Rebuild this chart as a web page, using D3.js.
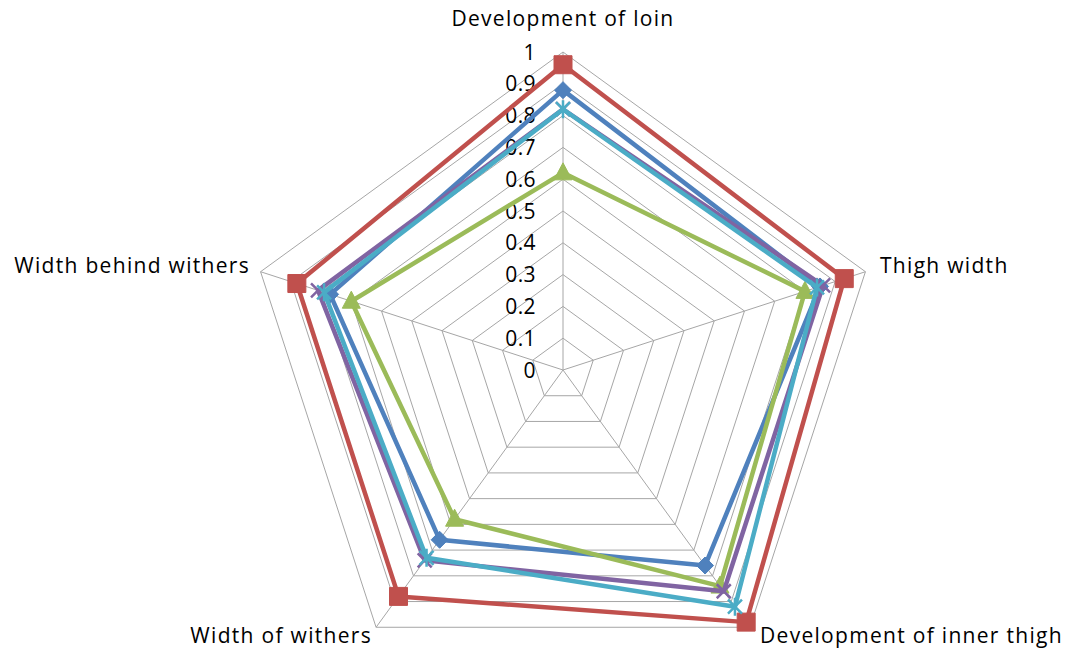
<!DOCTYPE html>
<html><head><meta charset="utf-8">
<script src="https://cdn.jsdelivr.net/npm/d3@7"></script>
<style>body{margin:0;background:#fff}svg{display:block}</style>
</head><body>
<svg id="chart" width="1067" height="656"></svg>
<script>
const categories = ["Development of loin","Thigh width","Development of inner thigh","Width of withers","Width behind withers"];
const tickLabels = ["0","0.1","0.2","0.3","0.4","0.5","0.6","0.7","0.8","0.9","1"];
const seriesBlue   = [0.88, 0.85, 0.76, 0.66, 0.77];
const seriesRed    = [0.96, 0.93, 0.98, 0.88, 0.88];
const seriesGreen  = [0.62, 0.80, 0.84, 0.58, 0.70];
const seriesPurple = [0.82, 0.86, 0.86, 0.74, 0.81];
const seriesCyan   = [0.82, 0.84, 0.92, 0.73, 0.79];

const series = [
  {values: seriesBlue, color: "#4F81BD", marker: "diamond"},
  {values: seriesRed, color: "#C0504D", marker: "square"},
  {values: seriesGreen, color: "#9BBB59", marker: "triangle"},
  {values: seriesPurple, color: "#8064A2", marker: "x"},
  {values: seriesCyan, color: "#4BACC6", marker: "star"}
];

const cx = 563, cy = 370, R = 318;
const svg = d3.select("#chart");
const g = svg.append("g").attr("transform", `translate(${cx},${cy})`);
const rScale = d3.scaleLinear().domain([0, 1]).range([0, R]);
const aScale = d3.scaleLinear().domain([0, categories.length]).range([0, 2 * Math.PI]);
const pt = (i, v) => {
  const a = aScale(i);
  return [rScale(v) * Math.sin(a), -rScale(v) * Math.cos(a)];
};
const levels = d3.range(1, 11).map(d => d / 10);
const font = "'Open Sans', Lato, sans-serif";

// grid
levels.forEach(l => {
  g.append("path")
    .attr("d", d3.line()(categories.map((c, i) => pt(i, l))) + "Z")
    .attr("fill", "none").attr("stroke", "#A6A6A6").attr("stroke-width", 1);
});
categories.forEach((c, i) => {
  const p = pt(i, 1);
  g.append("line").attr("x1", 0).attr("y1", 0).attr("x2", p[0]).attr("y2", p[1])
    .attr("stroke", "#A6A6A6").attr("stroke-width", 1);
});

// tick labels
tickLabels.forEach((t, k) => {
  g.append("text").attr("x", -27).attr("y", -rScale(k / 10) + 2)
    .attr("text-anchor", "end").attr("dominant-baseline", "middle")
    .attr("font-family", font).attr("font-size", 21).attr("letter-spacing", 0.4)
    .attr("fill", "#000").text(t);
});

// category labels
const labelPos = [
  {dx: 0, dy: -350, anchor: "middle"},
  {dx: 317, dy: -103, anchor: "start"},
  {dx: 197, dy: 267, anchor: "start"},
  {dx: -191, dy: 267, anchor: "end"},
  {dx: -313, dy: -103, anchor: "end"}
];
categories.forEach((c, i) => {
  g.append("text").attr("x", labelPos[i].dx).attr("y", labelPos[i].dy)
    .attr("text-anchor", labelPos[i].anchor).attr("dominant-baseline", "middle")
    .attr("font-family", font).attr("font-size", 21).attr("letter-spacing", 1.3)
    .attr("fill", "#000").text(c);
});

// series
const sym = {
  diamond: "M0,-8.5L8.5,0L0,8.5L-8.5,0Z",
  square: "M-9,-9L9,-9L9,9L-9,9Z",
  triangle: "M0,-10L9,7L-9,7Z",
  x: "M-7,-7L7,7M-7,7L7,-7",
  star: "M-7,-7L7,7M-7,7L7,-7M0,-9L0,9"
};
series.forEach(s => {
  const pts = s.values.map((v, i) => pt(i, v));
  g.append("path").attr("d", d3.line()(pts) + "Z")
    .attr("fill", "none").attr("stroke", s.color).attr("stroke-width", 4.5)
    .attr("stroke-linejoin", "round");
  pts.forEach(p => {
    const m = g.append("path").attr("d", sym[s.marker])
      .attr("transform", `translate(${p[0]},${p[1]})`);
    if (s.marker === "x" || s.marker === "star") {
      m.attr("fill", "none").attr("stroke", s.color).attr("stroke-width", 2.5);
    } else {
      m.attr("fill", s.color).attr("stroke", s.color);
    }
  });
});
</script>
</body></html>
